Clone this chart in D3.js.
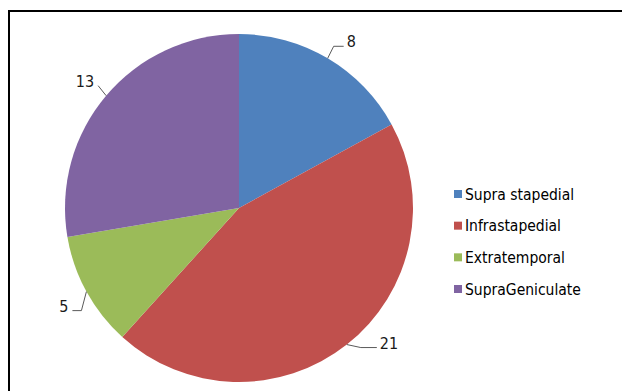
<!DOCTYPE html>
<html>
<head>
<meta charset="utf-8">
<script src="https://cdn.jsdelivr.net/npm/d3@7"></script>
<style>
  html, body { margin: 0; padding: 0; background: #fff; }
  svg { display: block; }
  text { font-family: "DejaVu Sans Condensed", "DejaVu Sans", sans-serif; font-stretch: condensed; }
</style>
</head>
<body>
<svg id="chart" width="622" height="391"></svg>
<script>
// Facial nerve lesion sites
const categories = ["Supra stapedial", "Infrastapedial", "Extratemporal", "SupraGeniculate"];
const counts = [8, 21, 5, 13];
const colors = ["#4F81BD", "#C0504D", "#9BBB59", "#8064A2"];

// Leader-line geometry per label: elbow offset from the arc edge, then a short run
const leaderLayout = [
  { elbow: [6, -12], run: 10 },
  { elbow: [14, 3], run: 16 },
  { elbow: [-5, 19], run: -9 },
  { elbow: [-8, -10], run: 0 }
];

const W = 622, H = 391;
const cx = 239, cy = 208, radius = 174;

const svg = d3.select("#chart");

// Chart frame
svg.append("rect")
  .attr("x", 9).attr("y", 11)
  .attr("width", W + 20).attr("height", H + 20)
  .attr("fill", "#fff")
  .attr("stroke", "#000")
  .attr("stroke-width", 2);

const pie = d3.pie().sort(null).value(d => d.value);
const arcs = pie(categories.map((c, i) => ({ name: c, value: counts[i], color: colors[i] })));

const arc = d3.arc().innerRadius(0).outerRadius(radius);

const g = svg.append("g").attr("transform", `translate(${cx},${cy})`);

g.selectAll("path.slice")
  .data(arcs)
  .join("path")
  .attr("class", "slice")
  .attr("d", arc)
  .attr("fill", d => d.data.color);

// Data labels with leader lines
const labels = g.selectAll("g.label")
  .data(arcs)
  .join("g")
  .attr("class", "label");

labels.each(function (d, i) {
  const mid = (d.startAngle + d.endAngle) / 2;
  const sx = radius * Math.sin(mid), sy = -radius * Math.cos(mid);
  const L = leaderLayout[i];
  const ex = sx + L.elbow[0], ey = sy + L.elbow[1];
  const tx = ex + L.run, ty = ey;
  const right = Math.sin(mid) >= 0;
  d3.select(this).append("path")
    .attr("d", d3.line()([[sx, sy], [ex, ey], [tx, ty]]))
    .attr("fill", "none")
    .attr("stroke", "#5a5a5a")
    .attr("stroke-width", 1);
  d3.select(this).append("text")
    .attr("x", tx + (right ? 3 : -4))
    .attr("y", ty + 1)
    .attr("text-anchor", right ? "start" : "end")
    .attr("font-size", 16)
    .attr("fill", "#1a1a1a")
    .text(d.data.value);
});

// Legend
const legendY = d3.scalePoint().domain(categories).range([194, 289]);
const legend = svg.append("g").selectAll("g")
  .data(categories)
  .join("g")
  .attr("transform", d => `translate(454,${legendY(d)})`);

legend.append("rect")
  .attr("x", 0).attr("y", -4)
  .attr("width", 8).attr("height", 8)
  .attr("fill", (d, i) => colors[i]);

legend.append("text")
  .attr("x", 11)
  .attr("y", 0)
  .attr("dy", "0.36em")
  .attr("font-size", 15.5)
  .attr("fill", "#000")
  .text(d => d);
</script>
</body>
</html>
